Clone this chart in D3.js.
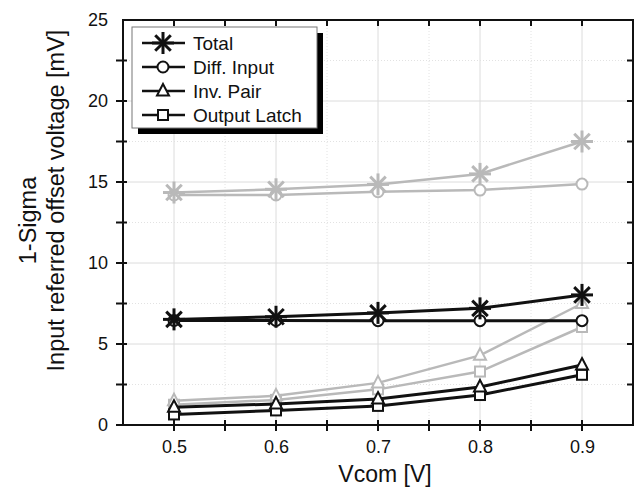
<!DOCTYPE html>
<html>
<head>
<meta charset="utf-8">
<script src="https://cdn.jsdelivr.net/npm/d3@7"></script>
<style>
  body { margin: 0; background: #fff; }
  text { font-family: Arial, "Liberation Sans", sans-serif; fill: #111; }
</style>
</head>
<body>
<div id="chart"></div>
<script>
// x values (Vcom in V)
const vcom = [0.5, 0.6, 0.7, 0.8, 0.9];

// black series
const totalBlack = [6.52, 6.68, 6.92, 7.2, 8.03];
const diffBlack = [6.45, 6.45, 6.44, 6.44, 6.44];
const invBlack = [1.1, 1.3, 1.6, 2.35, 3.7];
const latchBlack = [0.65, 0.9, 1.18, 1.85, 3.1];

// gray series
const totalGray = [14.35, 14.55, 14.85, 15.5, 17.5];
const diffGray = [14.2, 14.2, 14.4, 14.5, 14.87];
const invGray = [1.5, 1.8, 2.6, 4.3, 7.5];
const latchGray = [1.25, 1.55, 2.2, 3.3, 6.05];

const xTicks = [0.5, 0.6, 0.7, 0.8, 0.9];
const yTicks = [0, 5, 10, 15, 20, 25];
const legendNames = ["Total", "Diff. Input", "Inv. Pair", "Output Latch"];
const legendShapes = ["star", "circle", "triangle", "square"];

const width = 636;
const height = 488;
const margin = {top: 20, right: 3, bottom: 63, left: 123};

const gray = "#b9b9b9";

const svg = d3.select("#chart").append("svg")
    .attr("width", width)
    .attr("height", height);

const x = d3.scaleLinear()
    .domain([0.45, 0.95])
    .range([margin.left, width - margin.right]);

const y = d3.scaleLinear()
    .domain([0, 25])
    .range([height - margin.bottom, margin.top]);

const xMinor = d3.range(0.45, 0.951, 0.05).map(d => Math.round(d * 100) / 100);
const yMinor = d3.range(0, 25.01, 2.5);

// grid
const grid = svg.append("g");
grid.selectAll("line.gx")
    .data(xMinor.filter(d => d > 0.45 && d < 0.95))
    .enter().append("line")
    .attr("x1", d => x(d)).attr("x2", d => x(d))
    .attr("y1", y(0)).attr("y2", y(25))
    .attr("stroke", d => xTicks.includes(d) ? "#dcdcdc" : "#e2e2e2")
    .attr("stroke-dasharray", d => xTicks.includes(d) ? null : "1,2");
grid.selectAll("line.gy")
    .data(yMinor.filter(d => d > 0 && d < 25))
    .enter().append("line")
    .attr("y1", d => y(d)).attr("y2", d => y(d))
    .attr("x1", x(0.45)).attr("x2", x(0.95))
    .attr("stroke", d => d % 5 === 0 ? "#dcdcdc" : "#e2e2e2")
    .attr("stroke-dasharray", d => d % 5 === 0 ? null : "1,2");

// axes
const bottomAxis = d3.axisBottom(x).tickValues(xTicks).tickFormat(d3.format(".1f")).tickSize(0).tickPadding(15);
const leftAxis = d3.axisLeft(y).tickValues(yTicks).tickSize(0).tickPadding(15);

const gx = svg.append("g")
    .attr("transform", `translate(0,${y(0)})`)
    .call(bottomAxis);
const gy = svg.append("g")
    .attr("transform", `translate(${x(0.45)},0)`)
    .call(leftAxis);
[gx, gy].forEach(g => {
  g.attr("font-family", null);
  g.select(".domain").remove();
  g.selectAll("text").style("font-size", "18px").attr("fill", "#111");
});

const frame = svg.append("g").attr("stroke", "#111").attr("stroke-width", 2);
frame.append("rect")
    .attr("x", x(0.45)).attr("y", y(25))
    .attr("width", x(0.95) - x(0.45)).attr("height", y(0) - y(25))
    .attr("fill", "none");

// tick marks
frame.selectAll("line.bt")
    .data(xMinor.filter(d => d > 0.45 && d < 0.95))
    .enter().append("line")
    .attr("x1", d => x(d)).attr("x2", d => x(d))
    .attr("y1", y(0) - 5).attr("y2", y(0) + 6);
frame.selectAll("line.tt")
    .data(xMinor.filter(d => d > 0.45 && d < 0.95))
    .enter().append("line")
    .attr("x1", d => x(d)).attr("x2", d => x(d))
    .attr("y1", y(25)).attr("y2", y(25) + 6);
frame.selectAll("line.lt")
    .data(yMinor.filter(d => d < 25))
    .enter().append("line")
    .attr("x1", x(0.45) - 7).attr("x2", x(0.45) + 4)
    .attr("y1", d => y(d)).attr("y2", d => y(d));
frame.selectAll("line.rt")
    .data(yMinor.filter(d => d > 0 && d < 25))
    .enter().append("line")
    .attr("x1", x(0.95) - 6).attr("x2", x(0.95))
    .attr("y1", d => y(d)).attr("y2", d => y(d));

// marker drawing
function marker(g, shape, cx, cy, color) {
  if (shape === "star") {
    const r = 11;
    [0, 45, 90, 135].forEach(a => {
      const dx = r * Math.cos(a * Math.PI / 180), dy = r * Math.sin(a * Math.PI / 180);
      g.append("line")
          .attr("x1", cx - dx).attr("y1", cy - dy)
          .attr("x2", cx + dx).attr("y2", cy + dy)
          .attr("stroke", color).attr("stroke-width", 3);
    });
  } else if (shape === "circle") {
    g.append("circle").attr("cx", cx).attr("cy", cy).attr("r", 5.5)
        .attr("fill", "#fff").attr("stroke", color).attr("stroke-width", 2);
  } else if (shape === "triangle") {
    g.append("path")
        .attr("d", `M${cx},${cy - 7}L${cx + 6},${cy + 4.5}L${cx - 6},${cy + 4.5}Z`)
        .attr("fill", "#fff").attr("stroke", color).attr("stroke-width", 2);
  } else {
    g.append("rect").attr("x", cx - 5).attr("y", cy - 5).attr("width", 10).attr("height", 10)
        .attr("fill", "#fff").attr("stroke", color).attr("stroke-width", 2);
  }
}

const series = [
  {values: latchGray, shape: "square", color: gray, w: 2.5},
  {values: invGray, shape: "triangle", color: gray, w: 2.5},
  {values: diffGray, shape: "circle", color: gray, w: 2.5},
  {values: totalGray, shape: "star", color: gray, w: 2.5},
  {values: latchBlack, shape: "square", color: "#111", w: 3},
  {values: invBlack, shape: "triangle", color: "#111", w: 3},
  {values: diffBlack, shape: "circle", color: "#111", w: 3},
  {values: totalBlack, shape: "star", color: "#111", w: 3}
];

const line = d3.line().x((d, i) => x(vcom[i])).y(d => y(d));

series.forEach(s => {
  const g = svg.append("g");
  g.append("path")
      .attr("d", line(s.values))
      .attr("fill", "none")
      .attr("stroke", s.color)
      .attr("stroke-width", s.w);
  s.values.forEach((v, i) => marker(g, s.shape, x(vcom[i]), y(v), s.color));
});

// legend
const leg = svg.append("g").attr("transform", "translate(132,27)");
leg.append("rect").attr("x", 6).attr("y", 6).attr("width", 185).attr("height", 101).attr("fill", "#000");
leg.append("rect").attr("x", 0).attr("y", 0).attr("width", 185).attr("height", 101)
    .attr("fill", "#fff").attr("stroke", "#777").attr("stroke-width", 1);
legendNames.forEach((name, i) => {
  const ly = 16 + i * 24;
  const g = leg.append("g");
  g.append("line").attr("x1", 10).attr("x2", 53).attr("y1", ly).attr("y2", ly)
      .attr("stroke", "#111").attr("stroke-width", 2.5);
  marker(g, legendShapes[i], 31, ly, "#111");
  g.append("text").attr("x", 61).attr("y", ly + 7)
      .style("font-size", "19px").text(name);
});

// axis titles
svg.append("text")
    .attr("x", 385)
    .attr("y", 482)
    .attr("text-anchor", "middle")
    .style("font-size", "23px")
    .text("Vcom [V]");

const yTitle = svg.append("text")
    .attr("transform", `translate(0,${(y(0) + y(25)) / 2}) rotate(-90)`)
    .attr("text-anchor", "middle")
    .style("font-size", "23.5px");
yTitle.append("tspan").attr("x", 2).attr("y", 36).text("1-Sigma");
yTitle.append("tspan").attr("x", 22).attr("y", 64).text("Input referred offset voltage [mV]");
</script>
</body>
</html>
